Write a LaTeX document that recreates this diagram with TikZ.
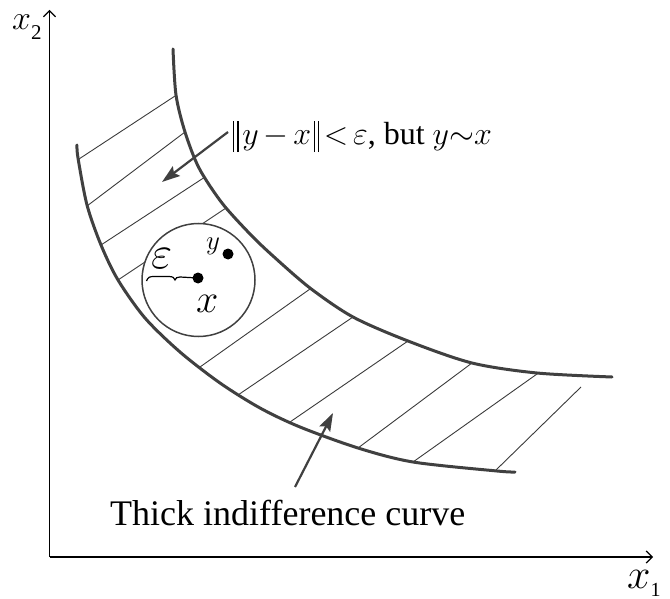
\RequirePackage{fix-cm}
\documentclass[tikz,border=0pt]{standalone}
\usepackage{fontspec}
\setmainfont{Liberation Serif}
\usetikzlibrary{arrows.meta}
\definecolor{curvegray}{HTML}{404040}
\definecolor{hatchgray}{HTML}{3A3A3A}
\newcommand{\dbar}{\rule[-0.22em]{0.04em}{0.97em}\hspace{0.09em}\rule[-0.22em]{0.04em}{0.97em}}
\begin{document}
\begin{tikzpicture}[x=1pt,y=-1pt,
  axis/.style={line width=1.4pt, black, -{Straight Barb[length=6pt,width=12pt,line width=1.2pt]}},
  thickcurve/.style={line width=3pt, curvegray, line cap=round},
  hatchline/.style={line width=0.9pt, hatchgray},
  pointer/.style={line width=2.2pt, curvegray, -{Stealth[length=18pt,width=12pt,inset=3pt]}},
  dotmark/.style={circle, fill=black, inner sep=0pt, minimum size=11pt},
  lbl/.style={inner sep=0pt, anchor=base west}]
\useasboundingbox (0,0) rectangle (670,599);

% axes
\coordinate (O) at (49.5,557);
\coordinate (ytop) at (49.5,10);
\coordinate (xend) at (653,557);
\draw[axis] (O) -- (ytop);
\draw[axis] (O) -- (xend);
\node[lbl] (xtwo) at (12,30) {\fontsize{34}{38}\selectfont$x$\raisebox{-10pt}{\fontsize{21}{24}\selectfont 2}};
\node[lbl] (xone) at (627,588) {\fontsize{42}{46}\selectfont$x$\raisebox{-8pt}{\fontsize{20}{24}\selectfont 1}};

% hatch lines
\foreach \a/\b/\c/\d in {79/159/175/96, 87/206/185/132, 101/245/205/177, 118/280/226/208,
  200/367/310/289, 238/395/353/317, 290/422/408/341, 358/448/472/363, 413/462/537/374, 496/470/581/387}
  \draw[hatchline] (\a,\b) -- (\c,\d);

% thick indifference curve (two bounding curves)
\draw[thickcurve] plot[smooth] coordinates {(173,49) (176,95) (185,132) (199,168) (222,203) (250,234) (273,256) (310,288) (353,317) (408,341) (472,363) (537,373) (612,377)};
\draw[thickcurve] plot[smooth] coordinates {(77,145) (78,158) (87,205) (101,245) (118,280) (145,318) (180,352) (220,383) (260,408) (300,427) (358,448) (413,462) (497,471) (515,472)};

% epsilon ball
\node[circle, draw=curvegray, line width=1.5pt, fill=white, minimum size=113pt, inner sep=0pt] (ball) at (198.5,280) {};
\node[dotmark] (px) at (198,278) {};
\node[dotmark] (py) at (228,254) {};
\draw[line width=1.2pt, black] (146.5,281) .. controls (148,277) and (150,276.5) .. (154,276.5) -- (169,276.5) .. controls (173,276.5) and (174.5,278) .. (175,280) .. controls (175.5,278) and (177,277) .. (180,277) -- (px.center);
\node[lbl] (eps) at (151,269) {\fontsize{46}{50}\selectfont$\varepsilon$};
\node[lbl] (xl) at (196,312) {\fontsize{40}{46}\selectfont$x$};
\node[lbl] (yl) at (206,250) {\fontsize{27}{32}\selectfont$y$};

% labels and pointers
\node[lbl] (toplabel) at (233,145) {\fontsize{32}{40}\selectfont\dbar\hspace{0.12em}$y\hspace{0.15em}{-}\hspace{0.15em}x$\hspace{0.08em}\dbar\hspace{0.15em}${<}\hspace{0.15em}\varepsilon$, but $y{\sim}x$};
\node[lbl] (bottomlabel) at (110,525) {\fontsize{36}{40}\selectfont Thick indifference curve};
\coordinate (p1s) at (228,132);
\coordinate (p1e) at (162,182);
\coordinate (p2s) at (295,487);
\coordinate (p2e) at (333,413);
\draw[pointer] (p1s) -- (p1e);
\draw[pointer] (p2s) -- (p2e);
\end{tikzpicture}
\end{document}
